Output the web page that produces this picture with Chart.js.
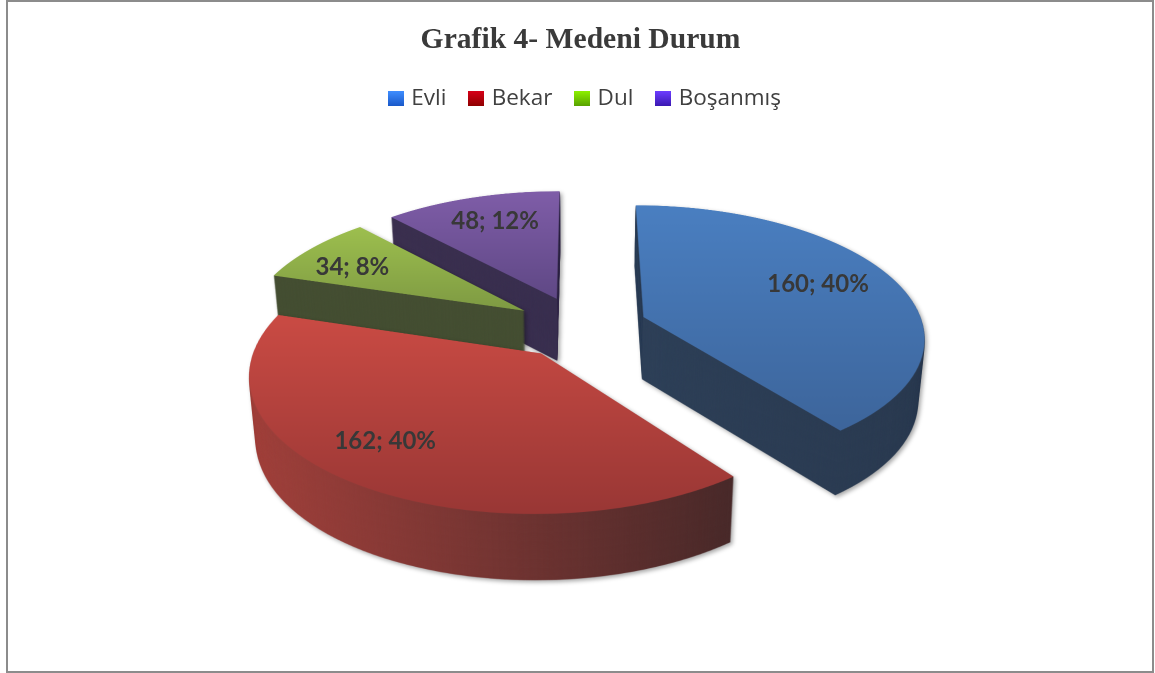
<!DOCTYPE html>
<html><head><meta charset="utf-8">
<style>html,body{margin:0;padding:0;background:#fff;overflow:hidden}canvas{display:block}</style>
<script src="https://cdn.jsdelivr.net/npm/chart.js@4"></script>
</head><body><canvas id="c" width="1155" height="673"></canvas>
<script>
const categories = ['Evli', 'Bekar', 'Dul', 'Boşanmış'];
const values = [160, 162, 34, 48];
const percents = [40, 40, 8, 12];
const baseColors = ['#4175b5', '#b04340', '#8cab48', '#6f5496'];
const topLight = ['#4a7fc1', '#ca4b44', '#9dbf4e', '#7f5da8'];
const topDark = ['#3d659b', '#993735', '#7e9a43', '#5f4885'];
const wallStops = [['#2f4159', '#2c3c52'], ['#a2423d', '#4a2b2b'], ['#454f33', '#454f33'], ['#3c3150', '#3a3050']];
const legendTop = ['#3f8dff', '#d60018', '#8cf000', '#6c3dff'];
const legendBottom = ['#1958c8', '#8e0000', '#58a000', '#3a18b0'];
const drawOrder = [3, 2, 1, 0];
const labelNudgeX = [-9, -21, -13.5, 2.5];
const labelNudgeY = [-4, -2, 3, -1];

// view settings of the tilted pie
const view = {X0: 580.5, Y0: 327, A: 130, B: 280, k: 0.14, explode: 0.24, depth: 62.5, depthPersp: 0.02, shrink: 0.02, labelR: 0.73};
const SS = 2, W = 1155, H = 673, N = 1400, Rf = 450;

function mk(w, h) { const c = document.createElement('canvas'); c.width = w; c.height = h; return c; }
function project(u, v) {
  const w = 1 - view.k * v;
  return {x: view.X0 + view.B * u / w, y: view.Y0 + view.A * v / w};
}
function invV(y) { const t = y - view.Y0; return t / (view.A + view.k * t); }

function warp(flat) {
  const out = mk(W * SS, H * SS), o = out.getContext('2d');
  o.imageSmoothingEnabled = true; o.imageSmoothingQuality = 'high';
  for (let ry = 150 * SS; ry < 560 * SS; ry++) {
    const v0 = invV(ry / SS), v1 = invV((ry + 1) / SS);
    const w = 1 - view.k * (v0 + v1) / 2;
    const sc = view.B / w / Rf * SS;
    const sy0 = N / 2 + v0 * Rf, sy1 = N / 2 + v1 * Rf;
    if (sy0 < 0 || sy1 > N) continue;
    o.drawImage(flat, 0, sy0, N, sy1 - sy0, view.X0 * SS - N / 2 * sc, ry, N * sc, 1);
  }
  return out;
}

function renderSlice(arc, i) {
  const mid = (arc.startAngle + arc.endAngle) / 2;
  const ex = Math.cos(mid) * view.explode, ey = Math.sin(mid) * view.explode;
  const flat = mk(N, N), f = flat.getContext('2d');
  f.translate(N / 2, N / 2);
  f.translate(ex * Rf, ey * Rf);
  f.scale(Rf / arc.outerRadius, Rf / arc.outerRadius);
  f.translate(-arc.x, -arc.y);
  arc.draw(f);
  const sil = warp(flat);

  // extents of the projected slice for shading
  let minY = 1e9, maxY = -1e9, minX = 1e9, maxX = -1e9;
  const pts = [project(ex, ey)];
  for (let s = 0; s <= 40; s++) {
    const a = arc.startAngle + (arc.endAngle - arc.startAngle) * s / 40;
    pts.push(project(ex + Math.cos(a), ey + Math.sin(a)));
  }
  pts.forEach(p => { minY = Math.min(minY, p.y); maxY = Math.max(maxY, p.y); minX = Math.min(minX, p.x); maxX = Math.max(maxX, p.x); });

  const top = mk(W * SS, H * SS), t = top.getContext('2d');
  t.drawImage(sil, 0, 0);
  t.globalCompositeOperation = 'source-in';
  const g = t.createLinearGradient(0, minY * SS, 0, maxY * SS);
  g.addColorStop(0, topLight[i]); g.addColorStop(1, topDark[i]);
  t.fillStyle = g; t.fillRect(0, 0, W * SS, H * SS);

  const wall = mk(W * SS, H * SS), wc = wall.getContext('2d');
  wc.drawImage(sil, 0, 0);
  wc.globalCompositeOperation = 'source-in';
  const gw = wc.createLinearGradient(minX * SS, 0, maxX * SS, 0);
  gw.addColorStop(0, wallStops[i][0]); gw.addColorStop(1, wallStops[i][1]);
  wc.fillStyle = gw; wc.fillRect(0, 0, W * SS, H * SS);

  const layer = mk(W * SS, H * SS), l = layer.getContext('2d');
  const steps = Math.round(view.depth * SS);
  for (let s = steps; s >= 1; s--) {
    const q = s / steps;
    const sx = 1 - view.shrink * q, sy = 1 + view.depthPersp * q;
    l.setTransform(sx, 0, 0, sy, view.X0 * SS * (1 - sx), view.Y0 * SS * (1 - sy) + s);
    l.drawImage(wall, 0, 0);
  }
  l.setTransform(1, 0, 0, 1, 0, 0);
  l.drawImage(top, 0, 0);
  return layer;
}

const threeD = {
  id: 'threeD',
  beforeDraw(chart) {
    const c = chart.ctx;
    c.save();
    c.fillStyle = '#fff'; c.fillRect(0, 0, W, H);
    c.strokeStyle = '#8c8c8c'; c.lineWidth = 2;
    c.strokeRect(7, 1, 1146, 671);
    c.restore();
  },
  afterLayout(chart) { chart.legend.left += 6; chart.legend.right += 6; },
  beforeDatasetsDraw(chart) {
    const c = chart.ctx, arcs = chart.getDatasetMeta(0).data;
    c.save();
    c.imageSmoothingEnabled = true; c.imageSmoothingQuality = 'high';
    drawOrder.forEach(i => {
      const layer = renderSlice(arcs[i], i);
      c.shadowColor = 'rgba(0,0,0,0.35)'; c.shadowBlur = 4; c.shadowOffsetX = 2; c.shadowOffsetY = 2;
      c.drawImage(layer, 0, 0, W, H);
    });
    c.restore();
    return false;
  },
  afterDraw(chart) {
    const c = chart.ctx, arcs = chart.getDatasetMeta(0).data;
    c.save();
    c.font = 'bold 24px Lato';
    c.fillStyle = '#383838'; c.textAlign = 'center'; c.textBaseline = 'middle';
    arcs.forEach((arc, i) => {
      const mid = (arc.startAngle + arc.endAngle) / 2;
      const e = view.explode + view.labelR;
      const p = project(Math.cos(mid) * e, Math.sin(mid) * e);
      c.fillText(values[i] + '; ' + percents[i] + '%', p.x + labelNudgeX[i], p.y + labelNudgeY[i]);
    });
    c.restore();
  }
};

const legendIcons = categories.map((_, i) => {
  const k = mk(16, 15), x = k.getContext('2d');
  const g = x.createLinearGradient(0, 0, 0, 15);
  g.addColorStop(0, legendTop[i]); g.addColorStop(1, legendBottom[i]);
  x.fillStyle = g; x.fillRect(0, 0, 16, 15);
  return k;
});

new Chart(document.getElementById('c'), {
  type: 'pie',
  data: {labels: categories, datasets: [{data: values, backgroundColor: baseColors, borderWidth: 0}]},
  options: {
    responsive: false, animation: false, devicePixelRatio: 1,
    layout: {padding: {left: 6}},
    plugins: {
      tooltip: {enabled: false},
      title: {display: true, text: 'Grafik 4- Medeni Durum', color: '#3a3a3a',
        font: {family: 'Liberation Serif', size: 29.6, weight: 'bold'}, padding: {top: 23, bottom: 3}},
      legend: {display: true, position: 'top',
        labels: {usePointStyle: true, pointStyleWidth: 8, padding: 26, color: '#404040',
          font: {family: 'Open Sans', size: 22.5},
          generateLabels(chart) {
            const items = Chart.overrides.pie.plugins.legend.labels.generateLabels(chart);
            items.forEach((it, i) => { it.pointStyle = legendIcons[i]; });
            return items;
          }}}
    }
  },
  plugins: [threeD]
});
</script></body></html>
